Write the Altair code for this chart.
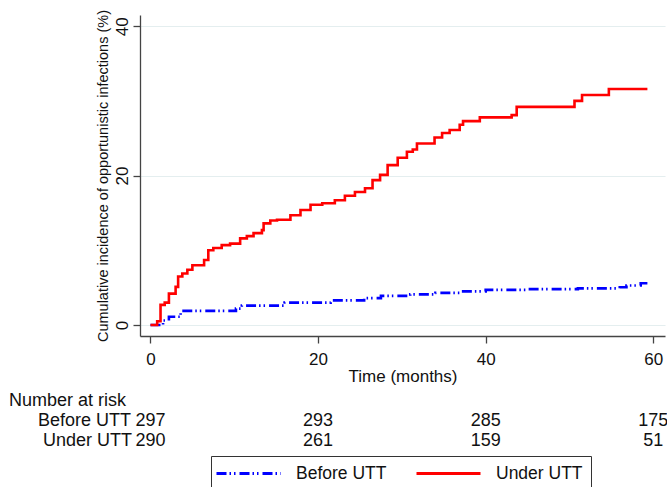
import altair as alt
import pandas as pd

# ---- data ----
groups = ["Before UTT", "Under UTT"]

before_t = [0, 1.5, 2.2, 3.6, 10.2, 10.9, 16.0, 21.5, 25.5, 27.5, 31.0, 34.0, 37.0,
            40.0, 45.0, 51.0, 56.0, 56.8, 58.5, 59.3]
before_y = [0, 0.6, 1.1, 1.9, 2.2, 2.6, 3.0, 3.3, 3.6, 3.9, 4.1, 4.3, 4.5,
            4.7, 4.8, 4.9, 5.05, 5.3, 5.6, 5.6]

under_t = [0, 0.8, 1.2, 1.7, 2.2, 3.0, 3.3, 3.8, 4.4, 5.0, 6.4, 6.9, 7.5, 8.5, 9.5,
           10.7, 11.5, 12.3, 13.3, 13.5, 14.3, 15.1, 16.7, 17.9, 19.1, 20.5, 22.0,
           23.2, 24.4, 25.6, 26.5, 27.4, 28.3, 29.5, 30.6, 31.3, 31.8, 33.9, 34.8,
           35.7, 36.9, 37.3, 39.3, 43.1, 43.7, 50.6, 51.5, 54.7, 59.3]
under_y = [0, 0.5, 2.7, 3.0, 4.2, 5.1, 6.5, 6.9, 7.4, 8.0, 8.7, 10.0, 10.3, 10.7, 10.9,
           11.6, 11.9, 12.3, 12.7, 13.6, 14.0, 14.1, 14.7, 15.4, 16.1, 16.3, 16.7,
           17.3, 17.8, 18.3, 19.4, 20.1, 21.4, 22.4, 23.2, 23.5, 24.3, 25.1, 25.7,
           26.1, 26.8, 27.3, 27.8, 28.1, 29.2, 30.0, 30.8, 31.6, 31.6]

risk_times = [0, 20, 40, 60]
risk_before = [297, 293, 285, 175]
risk_under = [290, 261, 159, 51]

x_ticks = [0, 20, 40, 60]
y_ticks = [0, 20, 40]

FONT = "Liberation Sans"
TXT = 18

curves = pd.concat([
    pd.DataFrame({"t": before_t, "ci": before_y, "group": groups[0]}),
    pd.DataFrame({"t": under_t, "ci": under_y, "group": groups[1]}),
], ignore_index=True)

risk = pd.DataFrame({
    "t": risk_times * 2,
    "n": risk_before + risk_under,
    "group": [groups[0]] * 4 + [groups[1]] * 4,
})

xscale = alt.Scale(domain=[-1.25, 61.4], nice=False, zero=False)
yscale = alt.Scale(domain=[-1.47, 41.5], nice=False, zero=False)

legend = alt.Legend(title=None, orient="none", legendX=71, legendY=441,
                    direction="horizontal", symbolType="M-4,0H4",
                    symbolSize=256, symbolStrokeWidth=3, symbolOffset=20,
                    labelFontSize=17.5, labelOffset=38,
                    columnPadding=23, padding=8,
                    strokeColor="#333", labelColor="#111", labelFont=FONT)

lines = alt.Chart(curves).mark_line(
    interpolate="step-after", strokeWidth=2.6, clip=False
).encode(
    x=alt.X("t:Q", scale=xscale,
            axis=alt.Axis(values=x_ticks, title="Time (months)", grid=False,
                          labelFontSize=17, titleFontSize=17, titleFontWeight="normal",
                          labelBaseline="alphabetic", labelPadding=21,
                          titleBaseline="alphabetic", titleY=45,
                          tickSize=7, domainColor="#444", tickColor="#444",
                          domainWidth=1.3, tickWidth=1.3, labelColor="#111",
                          titleColor="#111", labelFlush=False)),
    y=alt.Y("ci:Q", scale=yscale,
            axis=alt.Axis(values=y_ticks,
                          title="Cumulative incidence of opportunistic infections (%)",
                          grid=True, gridColor="#e4eeef", gridWidth=1.2,
                          labelFontSize=17, titleFontSize=14.5, titleFontWeight="normal",
                          labelAngle=270, labelAlign="center", labelBaseline="alphabetic",
                          labelPadding=6, titleAngle=270, titleBaseline="alphabetic",
                          titleX=-33, titleY=160.5, titleAlign="center",
                          tickSize=7, domainColor="#444", tickColor="#444",
                          domainWidth=1.3, tickWidth=1.3, labelColor="#111",
                          titleColor="#111", labelFlush=False)),
    color=alt.Color("group:N",
                    scale=alt.Scale(domain=groups, range=["#0000ff", "#ff0000"]),
                    legend=legend),
    strokeDash=alt.StrokeDash("group:N",
                              scale=alt.Scale(domain=groups,
                                              range=[[10, 3, 1.5, 3, 1.5, 4], [1, 0]]),
                              legend=legend),
)

row_y = {groups[0]: 426 - 15, groups[1]: 446 - 15}

numbers_before = alt.Chart(risk[risk.group == groups[0]]).mark_text(
    fontSize=TXT, font=FONT, align="center", baseline="alphabetic", color="#111"
).encode(x=alt.X("t:Q", scale=xscale), y=alt.value(row_y[groups[0]]), text="n:Q")

numbers_under = alt.Chart(risk[risk.group == groups[1]]).mark_text(
    fontSize=TXT, font=FONT, align="center", baseline="alphabetic", color="#111"
).encode(x=alt.X("t:Q", scale=xscale), y=alt.value(row_y[groups[1]]), text="n:Q")

labels_df = pd.DataFrame({"label": ["Number at risk"] + groups,
                          "kind": ["head", "row", "row"]})

head = alt.Chart(labels_df[labels_df.kind == "head"]).mark_text(
    fontSize=TXT, font=FONT, align="left", baseline="alphabetic", color="#111"
).encode(x=alt.value(-131), y=alt.value(406 - 15), text="label:N")

row_before = alt.Chart(labels_df[labels_df.label == groups[0]]).mark_text(
    fontSize=TXT, font=FONT, align="right", baseline="alphabetic", color="#111"
).encode(x=alt.value(-9), y=alt.value(row_y[groups[0]]), text="label:N")

row_under = alt.Chart(labels_df[labels_df.label == groups[1]]).mark_text(
    fontSize=TXT, font=FONT, align="right", baseline="alphabetic", color="#111"
).encode(x=alt.value(-8), y=alt.value(row_y[groups[1]]), text="label:N")

chart = alt.layer(
    lines, numbers_before, numbers_under, head, row_before, row_under
).properties(
    width=525, height=321,
    padding={"left": 140, "top": 15, "right": 2, "bottom": 151},
    autosize=alt.AutoSizeParams(type="none"),
    background="white",
).configure_view(stroke=None).configure_axis(
    labelFont=FONT, titleFont=FONT
).configure_legend(labelFont=FONT)

chart.save("out.html", embed_options={"renderer": "svg", "actions": False})
